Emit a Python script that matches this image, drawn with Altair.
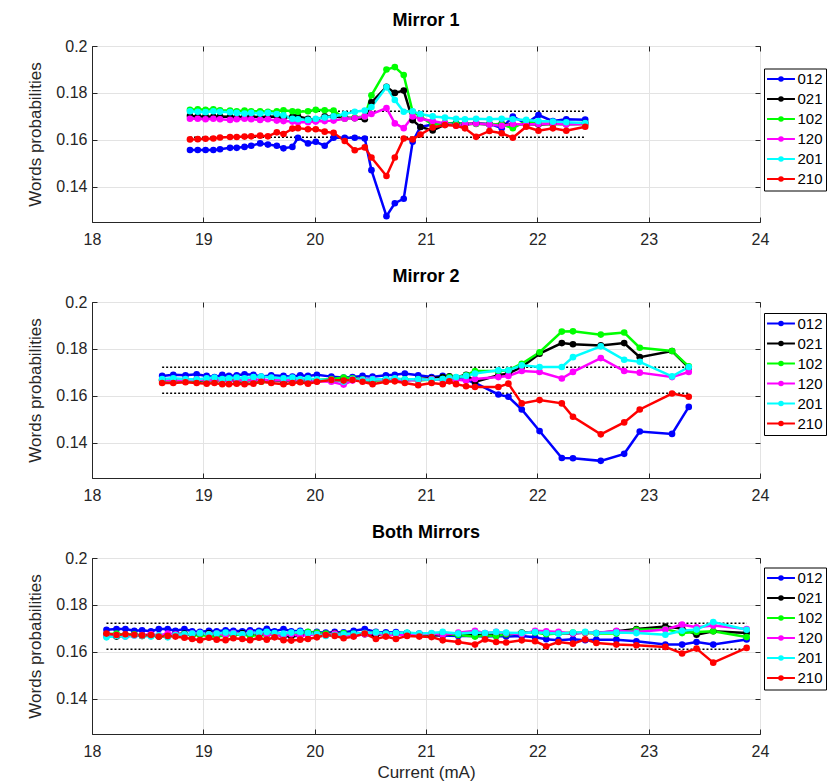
import altair as alt
import pandas as pd

words = ["012", "021", "102", "120", "201", "210"]
colors = ["#0000ff", "#000000", "#00ff00", "#ff00ff", "#00ffff", "#ff0000"]
x_ticks = [18, 19, 20, 21, 22, 23, 24]
y_ticks = [0.14, 0.16, 0.18, 0.2]
band_levels = [0.1722, 0.1611]

# ---------------- Mirror 1 ----------------
x1 = [18.88, 18.95, 19.02, 19.09, 19.15, 19.24, 19.30, 19.37, 19.43, 19.51, 19.58, 19.66, 19.72, 19.80,
      19.85, 19.94, 20.01, 20.09, 20.17, 20.27, 20.36, 20.45, 20.51, 20.645, 20.72, 20.80, 20.88, 20.95,
      21.06, 21.17, 21.27, 21.35, 21.45, 21.57, 21.68, 21.78, 21.90, 22.01, 22.14, 22.26, 22.43]
m1_012 = [0.1557, 0.1557, 0.1557, 0.1557, 0.1560, 0.1566, 0.1566, 0.1570, 0.1575, 0.1585, 0.1580, 0.1575,
          0.1564, 0.1570, 0.1609, 0.1585, 0.1592, 0.1575, 0.1609, 0.1609, 0.1609, 0.1606, 0.1471, 0.1275,
          0.1330, 0.1349, 0.1592, 0.1655, 0.1665, 0.1670, 0.1672, 0.1668, 0.1670, 0.1668, 0.1650, 0.1699,
          0.1670, 0.1706, 0.1680, 0.1688, 0.1686]
m1_021 = [0.1702, 0.1700, 0.1700, 0.1698, 0.1700, 0.1698, 0.1696, 0.1698, 0.1700, 0.1696, 0.1698, 0.1700,
          0.1695, 0.1698, 0.1700, 0.1690, 0.1685, 0.1700, 0.1700, 0.1695, 0.1692, 0.1688, 0.1760, 0.1826,
          0.1800, 0.1810, 0.1684, 0.1655, 0.1640, 0.1665, 0.1668, 0.1665, 0.1670, 0.1665, 0.1668, 0.1665,
          0.1668, 0.1665, 0.1668, 0.1670, 0.1672]
m1_102 = [0.1728, 0.1730, 0.1728, 0.1730, 0.1726, 0.1725, 0.1722, 0.1725, 0.1722, 0.1722, 0.1720, 0.1722,
          0.1726, 0.1722, 0.1720, 0.1722, 0.1728, 0.1726, 0.1725, 0.1690, 0.1695, 0.1700, 0.1790, 0.1900,
          0.1910, 0.1876, 0.1720, 0.1700, 0.1665, 0.1672, 0.1668, 0.1670, 0.1668, 0.1668, 0.1665, 0.1650,
          0.1680, 0.1670, 0.1668, 0.1665, 0.1668]
m1_120 = [0.1690, 0.1690, 0.1688, 0.1690, 0.1688, 0.1685, 0.1688, 0.1690, 0.1688, 0.1685, 0.1688, 0.1682,
          0.1680, 0.1678, 0.1675, 0.1675, 0.1678, 0.1680, 0.1682, 0.1690, 0.1692, 0.1700, 0.1710, 0.1735,
          0.1670, 0.1650, 0.1700, 0.1690, 0.1680, 0.1670, 0.1660, 0.1668, 0.1670, 0.1665, 0.1660, 0.1668,
          0.1665, 0.1668, 0.1670, 0.1665, 0.1668]
m1_201 = [0.1722, 0.1720, 0.1718, 0.1722, 0.1720, 0.1718, 0.1715, 0.1712, 0.1715, 0.1712, 0.1715, 0.1710,
          0.1705, 0.1690, 0.1688, 0.1685, 0.1690, 0.1695, 0.1700, 0.1710, 0.1720, 0.1725, 0.1740, 0.1825,
          0.1770, 0.1720, 0.1722, 0.1710, 0.1700, 0.1695, 0.1690, 0.1688, 0.1690, 0.1688, 0.1690, 0.1688,
          0.1685, 0.1680, 0.1678, 0.1675, 0.1672]
m1_210 = [0.1602, 0.1603, 0.1605, 0.1606, 0.1610, 0.1612, 0.1612, 0.1614, 0.1615, 0.1618, 0.1615, 0.1632,
          0.1625, 0.1648, 0.1650, 0.1645, 0.1645, 0.1635, 0.1630, 0.1595, 0.1556, 0.1568, 0.1525, 0.1446,
          0.1525, 0.1606, 0.1602, 0.1623, 0.1653, 0.1663, 0.1660, 0.1649, 0.1613, 0.1638, 0.1628, 0.1609,
          0.1656, 0.1639, 0.1649, 0.1639, 0.1656]

# ---------------- Mirror 2 ----------------
x2 = [18.63, 18.73, 18.84, 18.94, 19.03, 19.10, 19.17, 19.23, 19.30, 19.37, 19.45, 19.52, 19.61, 19.72,
      19.80, 19.87, 19.94, 20.02, 20.15, 20.26, 20.34, 20.43, 20.52, 20.64, 20.72, 20.81, 20.93, 21.05,
      21.15, 21.21, 21.27, 21.36, 21.44, 21.65, 21.74, 21.86, 22.02, 22.22, 22.32, 22.57, 22.78, 22.92,
      23.21, 23.36]
m2_012 = [0.1685, 0.1690, 0.1688, 0.1692, 0.1685, 0.1680, 0.1690, 0.1685, 0.1688, 0.1692, 0.1690, 0.1682,
          0.1688, 0.1685, 0.1682, 0.1688, 0.1685, 0.1690, 0.1682, 0.1678, 0.1680, 0.1685, 0.1682, 0.1688,
          0.1690, 0.1695, 0.1688, 0.1680, 0.1685, 0.1680, 0.1672, 0.1668, 0.1655, 0.1606, 0.1596, 0.1542,
          0.1450, 0.1335, 0.1334, 0.1323, 0.1353, 0.1448, 0.1438, 0.1553]
m2_021 = [0.1668, 0.1665, 0.1668, 0.1665, 0.1662, 0.1665, 0.1668, 0.1665, 0.1662, 0.1660, 0.1665, 0.1668,
          0.1665, 0.1662, 0.1665, 0.1660, 0.1665, 0.1662, 0.1668, 0.1670, 0.1672, 0.1668, 0.1665, 0.1670,
          0.1668, 0.1665, 0.1672, 0.1675, 0.1680, 0.1683, 0.1678, 0.1690, 0.1660, 0.1688, 0.1695, 0.1723,
          0.1780, 0.1825, 0.1820, 0.1815, 0.1825, 0.1765, 0.1791, 0.1720]
m2_102 = [0.1665, 0.1662, 0.1665, 0.1668, 0.1665, 0.1662, 0.1665, 0.1668, 0.1665, 0.1662, 0.1665, 0.1660,
          0.1665, 0.1668, 0.1665, 0.1662, 0.1665, 0.1668, 0.1672, 0.1678, 0.1675, 0.1670, 0.1668, 0.1665,
          0.1668, 0.1670, 0.1665, 0.1670, 0.1672, 0.1680, 0.1675, 0.1688, 0.1706, 0.1706, 0.1709, 0.1737,
          0.1786, 0.1874, 0.1875, 0.1861, 0.1870, 0.1805, 0.1791, 0.1726]
m2_120 = [0.1668, 0.1665, 0.1668, 0.1670, 0.1665, 0.1668, 0.1665, 0.1662, 0.1668, 0.1665, 0.1668, 0.1670,
          0.1665, 0.1668, 0.1665, 0.1668, 0.1665, 0.1662, 0.1660, 0.1648, 0.1665, 0.1668, 0.1672, 0.1668,
          0.1670, 0.1665, 0.1668, 0.1672, 0.1668, 0.1674, 0.1670, 0.1665, 0.1672, 0.1680, 0.1685, 0.1706,
          0.1702, 0.1674, 0.1702, 0.1761, 0.1706, 0.1699, 0.1680, 0.1702]
m2_201 = [0.1672, 0.1675, 0.1672, 0.1670, 0.1675, 0.1678, 0.1672, 0.1675, 0.1678, 0.1675, 0.1680, 0.1682,
          0.1678, 0.1675, 0.1678, 0.1672, 0.1675, 0.1670, 0.1668, 0.1660, 0.1672, 0.1668, 0.1670, 0.1672,
          0.1675, 0.1670, 0.1672, 0.1668, 0.1672, 0.1675, 0.1680, 0.1685, 0.1695, 0.1709, 0.1709, 0.1730,
          0.1723, 0.1723, 0.1765, 0.1811, 0.1754, 0.1745, 0.1683, 0.1723]
m2_210 = [0.1655, 0.1655, 0.1658, 0.1655, 0.1652, 0.1655, 0.1650, 0.1650, 0.1652, 0.1650, 0.1652, 0.1660,
          0.1655, 0.1650, 0.1655, 0.1658, 0.1652, 0.1660, 0.1668, 0.1665, 0.1668, 0.1660, 0.1650, 0.1660,
          0.1662, 0.1655, 0.1645, 0.1655, 0.1650, 0.1662, 0.1650, 0.1641, 0.1638, 0.1638, 0.1652, 0.1568,
          0.1582, 0.1568, 0.1511, 0.1436, 0.1487, 0.1542, 0.1610, 0.1596]

# ---------------- Both Mirrors ----------------
x3 = [18.13, 18.22, 18.30, 18.38, 18.45, 18.53, 18.60, 18.68, 18.75, 18.83, 18.90, 18.97, 19.05, 19.12,
      19.20, 19.27, 19.35, 19.42, 19.50, 19.57, 19.64, 19.72, 19.79, 19.87, 19.94, 20.02, 20.10, 20.18,
      20.26, 20.35, 20.45, 20.55, 20.64, 20.73, 20.83, 20.94, 21.05, 21.15, 21.29, 21.44, 21.53, 21.63,
      21.72, 21.86, 21.98, 22.08, 22.19, 22.32, 22.43, 22.53, 22.71, 22.89, 23.15, 23.30, 23.43, 23.58,
      23.88]
m3_012 = [0.1694, 0.1697, 0.1697, 0.1690, 0.1692, 0.1688, 0.1697, 0.1697, 0.1690, 0.1697, 0.1688, 0.1685,
          0.1690, 0.1688, 0.1692, 0.1690, 0.1688, 0.1692, 0.1690, 0.1698, 0.1688, 0.1697, 0.1688, 0.1690,
          0.1684, 0.1685, 0.1682, 0.1685, 0.1683, 0.1690, 0.1697, 0.1685, 0.1683, 0.1684, 0.1680, 0.1678,
          0.1673, 0.1670, 0.1668, 0.1668, 0.1665, 0.1668, 0.1665, 0.1668, 0.1662, 0.1654, 0.1650, 0.1654,
          0.1650, 0.1652, 0.1652, 0.1645, 0.1631, 0.1631, 0.1642, 0.1631, 0.1653]
m3_021 = [0.1672, 0.1665, 0.1670, 0.1672, 0.1668, 0.1672, 0.1665, 0.1670, 0.1675, 0.1678, 0.1672, 0.1675,
          0.1680, 0.1672, 0.1678, 0.1675, 0.1680, 0.1675, 0.1672, 0.1678, 0.1675, 0.1668, 0.1665, 0.1670,
          0.1682, 0.1678, 0.1675, 0.1680, 0.1672, 0.1678, 0.1675, 0.1672, 0.1678, 0.1675, 0.1680, 0.1675,
          0.1670, 0.1672, 0.1675, 0.1672, 0.1678, 0.1670, 0.1675, 0.1682, 0.1685, 0.1678, 0.1680, 0.1678,
          0.1682, 0.1680, 0.1688, 0.1697, 0.1708, 0.1700, 0.1673, 0.1688, 0.1680]
m3_102 = [0.1675, 0.1678, 0.1672, 0.1675, 0.1670, 0.1672, 0.1668, 0.1665, 0.1672, 0.1675, 0.1670, 0.1672,
          0.1668, 0.1665, 0.1670, 0.1672, 0.1675, 0.1668, 0.1672, 0.1670, 0.1675, 0.1672, 0.1678, 0.1680,
          0.1685, 0.1682, 0.1678, 0.1675, 0.1680, 0.1672, 0.1678, 0.1682, 0.1675, 0.1678, 0.1680, 0.1675,
          0.1675, 0.1678, 0.1672, 0.1665, 0.1670, 0.1668, 0.1675, 0.1680, 0.1682, 0.1675, 0.1678, 0.1682,
          0.1680, 0.1678, 0.1678, 0.1694, 0.1697, 0.1680, 0.1685, 0.1688, 0.1663]
m3_120 = [0.1668, 0.1672, 0.1665, 0.1670, 0.1672, 0.1675, 0.1670, 0.1678, 0.1675, 0.1672, 0.1678, 0.1680,
          0.1675, 0.1678, 0.1672, 0.1680, 0.1675, 0.1682, 0.1678, 0.1675, 0.1672, 0.1670, 0.1675, 0.1668,
          0.1672, 0.1675, 0.1670, 0.1678, 0.1672, 0.1668, 0.1675, 0.1680, 0.1672, 0.1675, 0.1670, 0.1675,
          0.1678, 0.1672, 0.1682, 0.1690, 0.1680, 0.1685, 0.1680, 0.1675, 0.1690, 0.1688, 0.1685, 0.1678,
          0.1682, 0.1680, 0.1690, 0.1685, 0.1695, 0.1716, 0.1705, 0.1712, 0.1697]
m3_201 = [0.1662, 0.1668, 0.1665, 0.1670, 0.1668, 0.1665, 0.1670, 0.1662, 0.1672, 0.1675, 0.1678, 0.1680,
          0.1675, 0.1678, 0.1682, 0.1678, 0.1675, 0.1680, 0.1682, 0.1685, 0.1680, 0.1678, 0.1682, 0.1685,
          0.1680, 0.1675, 0.1668, 0.1672, 0.1675, 0.1678, 0.1680, 0.1682, 0.1678, 0.1680, 0.1682, 0.1678,
          0.1680, 0.1685, 0.1678, 0.1682, 0.1680, 0.1685, 0.1682, 0.1680, 0.1684, 0.1680, 0.1678, 0.1682,
          0.1685, 0.1680, 0.1682, 0.1680, 0.1673, 0.1690, 0.1695, 0.1727, 0.1694]
m3_210 = [0.1678, 0.1672, 0.1675, 0.1673, 0.1670, 0.1672, 0.1665, 0.1668, 0.1665, 0.1660, 0.1655, 0.1650,
          0.1660, 0.1652, 0.1650, 0.1658, 0.1655, 0.1650, 0.1660, 0.1652, 0.1662, 0.1650, 0.1648, 0.1652,
          0.1655, 0.1662, 0.1672, 0.1668, 0.1658, 0.1665, 0.1678, 0.1655, 0.1665, 0.1655, 0.1668, 0.1665,
          0.1663, 0.1649, 0.1642, 0.1631, 0.1653, 0.1642, 0.1640, 0.1649, 0.1645, 0.1624, 0.1642, 0.1635,
          0.1653, 0.1638, 0.1631, 0.1628, 0.1621, 0.1593, 0.1614, 0.1554, 0.1617]

FONT = "Liberation Sans"
INK = "#262626"
# legend symbol: a short line with a dot in the middle
SYMBOL = "M-3.1,0L3.1,0M-0.4,0A0.4,0.4,0,1,1,0.4,0A0.4,0.4,0,1,1,-0.4,0"


def long_table(x, series):
    rows = []
    for w, vals in zip(words, series):
        assert len(vals) == len(x), (w, len(vals), len(x))
        for xi, v in zip(x, vals):
            rows.append({"current": xi, "prob": v, "word": w})
    return pd.DataFrame(rows)


def tick_axis(orient, values):
    # inward tick marks only (MATLAB box style)
    return alt.Axis(orient=orient, offset=-5, values=values, labels=False, domain=False,
                    grid=False, ticks=True, tickSize=5, tickColor=INK, tickWidth=1, title=None)


def panel(x, series, title, legend_y, bottom):
    df = long_table(x, series)
    bands = pd.DataFrame({"level": band_levels, "x0": [x[0]] * 2, "x1": [x[-1]] * 2})
    xs = alt.Scale(domain=[18, 24], nice=False, zero=False)
    ys = alt.Scale(domain=[0.125, 0.2], nice=False, zero=False)
    xaxis = alt.Axis(values=x_ticks, format="d", title="Current (mA)" if bottom else None,
                     labelPadding=9, titlePadding=5, labelFlush=False)
    yaxis = alt.Axis(values=y_ticks, format=".2~f", title="Words probabilities",
                     labelPadding=5, titlePadding=11, labelFlush=False)
    cscale = alt.Scale(domain=words, range=colors)
    base = alt.Chart(df)
    rule = alt.Chart(bands).mark_rule(color="black", strokeDash=[2, 2], strokeWidth=1.5).encode(
        x=alt.X("x0:Q", scale=xs, axis=xaxis), x2="x1:Q", y=alt.Y("level:Q", scale=ys, axis=yaxis))
    lines = base.mark_line(strokeWidth=2.5).encode(
        x=alt.X("current:Q", scale=xs, axis=tick_axis("bottom", x_ticks)),
        y=alt.Y("prob:Q", scale=ys, axis=tick_axis("left", y_ticks)),
        color=alt.Color("word:N", scale=cscale, legend=alt.Legend(
            title=None, orient="none", legendX=672, legendY=legend_y, direction="vertical",
            strokeColor="black", fillColor="white", padding=3, cornerRadius=0,
            labelFontSize=15, labelFont=FONT, labelColor="black",
            symbolType=SYMBOL, symbolSize=81, symbolStrokeWidth=2, symbolOffset=6.5,
            labelOffset=9, rowPadding=4)))
    pts = base.mark_circle(size=44, opacity=1).encode(
        x=alt.X("current:Q", scale=xs, axis=tick_axis("top", x_ticks)),
        y=alt.Y("prob:Q", scale=ys, axis=tick_axis("right", y_ticks)),
        color=alt.Color("word:N", scale=cscale, legend=None))
    return alt.layer(rule, lines, pts).resolve_axis(x="independent", y="independent").properties(
        width=668, height=176,
        title=alt.TitleParams(title, fontSize=18, fontWeight="bold", anchor="middle",
                              offset=8.5, font=FONT, color="black"))


p1 = panel(x1, [m1_012, m1_021, m1_102, m1_120, m1_201, m1_210], "Mirror 1", 22.5, False)
p2 = panel(x2, [m2_012, m2_021, m2_102, m2_120, m2_201, m2_210], "Mirror 2", 11, False)
p3 = panel(x3, [m3_012, m3_021, m3_102, m3_120, m3_201, m3_210], "Both Mirrors", 9.5, True)

chart = alt.vconcat(p1, p2, p3, spacing=19).resolve_scale(
    color="independent").resolve_legend(color="independent").properties(
    padding={"left": 18, "top": 3, "right": 0, "bottom": 0}
).configure_axis(
    labelFont=FONT, titleFont=FONT, labelFontSize=16, titleFontSize=17,
    labelColor=INK, titleColor=INK, titleFontWeight="normal",
    domainColor=INK, ticks=False, gridColor="#e3e3e3", gridWidth=1,
).configure_view(stroke=INK, strokeWidth=1)

chart.save("out.html", embed_options={"renderer": "svg", "actions": False})
